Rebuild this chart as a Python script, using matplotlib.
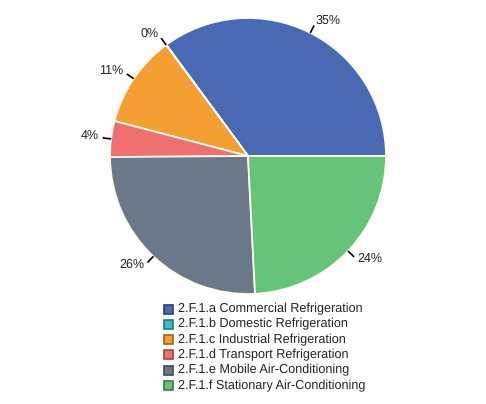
import numpy as np
import matplotlib
matplotlib.use("Agg")
import matplotlib.pyplot as plt
from matplotlib.lines import Line2D

plt.rcParams['font.family'] = ['Liberation Sans', 'DejaVu Sans']
plt.rcParams['text.hinting'] = 'no_hinting'

categories = ["2.F.1.a Commercial Refrigeration",
              "2.F.1.b Domestic Refrigeration",
              "2.F.1.c Industrial Refrigeration",
              "2.F.1.d Transport Refrigeration",
              "2.F.1.e Mobile Air-Conditioning",
              "2.F.1.f Stationary Air-Conditioning"]
values = [35.1, 0.05, 10.8, 4.2, 25.7, 24.2]
colors = ["#4a69b3", "#3cc0c8", "#f59e32", "#f07070", "#6b7888", "#66c47a"]
edge_colors = ["#2a3f70", "#1f7a80", "#a0651a", "#a04545", "#3f4854", "#3b7d4a"]

W, H = 486, 404
fig = plt.figure(figsize=(W/100, H/100), dpi=100)
cx, cy, R = 248, 156, 138
ax = fig.add_axes([(cx-R)/W, (H-cy-R)/H, 2*R/W, 2*R/H])
wedges, _ = ax.pie(values, colors=colors, startangle=0, counterclock=True,
                   radius=1.0, wedgeprops=dict(edgecolor='#fdfbf0', linewidth=1.3))
ax.set_xlim(-1, 1)
ax.set_ylim(-1, 1)
ax.set_aspect('equal')
ax.axis('off')

total = sum(values)
for w, v in zip(wedges, values):
    ang = np.deg2rad((w.theta1 + w.theta2) / 2)
    c, s = np.cos(ang), np.sin(ang)
    ax.add_line(Line2D([1.005*c, 1.055*c], [1.005*s, 1.055*s], color='black',
                       linewidth=1.2, clip_on=False))
    ha = 'left' if c > 0 else 'right'
    ax.text(1.09*c, 1.09*s + 0.01, f"{round(100*v/total):.0f}%", ha=ha, va='center',
            fontsize=9, color='#222222', clip_on=False)

# legend
lx, ly0, dy = 168, 309, 15.3
for i, (lab, col, ec) in enumerate(zip(categories, colors, edge_colors)):
    y = ly0 + i*dy
    fig.patches.append(plt.Rectangle(((lx-4.5)/W, 1-(y+4.5)/H), 9/W, 9/H,
                                     transform=fig.transFigure, facecolor=col,
                                     edgecolor=ec, linewidth=1.2))
    fig.text((lx+9.5)/W, 1-y/H, lab, ha='left', va='center', fontsize=9.1,
             color='#222222')

fig.savefig("out.png", dpi=100, facecolor='white')
